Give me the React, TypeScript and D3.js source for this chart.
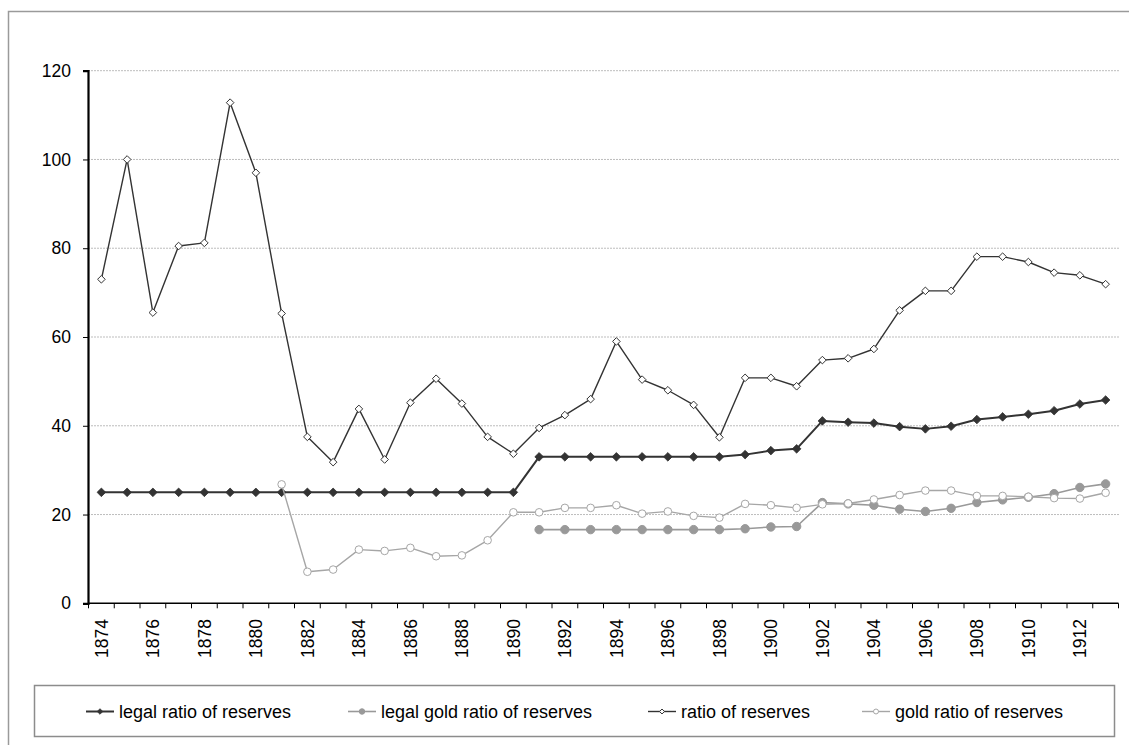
import React, { useEffect, useRef } from 'react';
import * as d3 from 'd3';

// Years on the category axis
const years: number[] = [
  1874, 1875, 1876, 1877, 1878, 1879, 1880, 1881, 1882, 1883,
  1884, 1885, 1886, 1887, 1888, 1889, 1890, 1891, 1892, 1893,
  1894, 1895, 1896, 1897, 1898, 1899, 1900, 1901, 1902, 1903,
  1904, 1905, 1906, 1907, 1908, 1909, 1910, 1911, 1912, 1913,
];

const yTicks: number[] = [0, 20, 40, 60, 80, 100, 120];

const legalRatio: (number | null)[] = [
  25, 25, 25, 25, 25, 25, 25, 25, 25, 25,
  25, 25, 25, 25, 25, 25, 25, 33, 33, 33,
  33, 33, 33, 33, 33, 33.5, 34.4, 34.8, 41.1, 40.8,
  40.6, 39.8, 39.3, 39.9, 41.4, 42, 42.6, 43.4, 44.9, 45.8,
];

const legalGoldRatio: (number | null)[] = [
  null, null, null, null, null, null, null, null, null, null,
  null, null, null, null, null, null, null, 16.6, 16.6, 16.6,
  16.6, 16.6, 16.6, 16.6, 16.6, 16.8, 17.2, 17.3, 22.7, 22.4,
  22.1, 21.2, 20.7, 21.4, 22.7, 23.3, 23.9, 24.7, 26.1, 26.9,
];

const ratio: (number | null)[] = [
  73, 100, 65.5, 80.5, 81.2, 112.8, 97, 65.3, 37.5, 31.8,
  43.8, 32.4, 45.2, 50.6, 45, 37.5, 33.7, 39.5, 42.4, 46,
  59, 50.4, 48, 44.7, 37.4, 50.8, 50.8, 48.9, 54.8, 55.2,
  57.3, 66, 70.4, 70.4, 78.1, 78.1, 76.9, 74.5, 73.9, 71.9,
];

const goldRatio: (number | null)[] = [
  null, null, null, null, null, null, null, 26.8, 7.1, 7.6,
  12.1, 11.8, 12.5, 10.6, 10.8, 14.2, 20.5, 20.5, 21.5, 21.5,
  22.1, 20.2, 20.7, 19.7, 19.3, 22.4, 22.1, 21.5, 22.3, 22.5,
  23.4, 24.4, 25.4, 25.4, 24.2, 24.2, 24, 23.7, 23.6, 24.9,
];

type Marker = 'filledDiamond' | 'filledCircle' | 'openDiamond' | 'openCircle';

interface Series {
  name: string;
  values: (number | null)[];
  color: string;
  width: number;
  marker: Marker;
}

const series: Series[] = [
  { name: 'legal ratio of reserves', values: legalRatio, color: '#333333', width: 2, marker: 'filledDiamond' },
  { name: 'legal gold ratio of reserves', values: legalGoldRatio, color: '#999999', width: 1.6, marker: 'filledCircle' },
  { name: 'ratio of reserves', values: ratio, color: '#333333', width: 1.4, marker: 'openDiamond' },
  { name: 'gold ratio of reserves', values: goldRatio, color: '#a6a6a6', width: 1.4, marker: 'openCircle' },
];

// legend text start positions
const legendTextX = [119, 381, 681, 895];

const FONT = 'Arial, "Liberation Sans", sans-serif';

function App() {
  const ref = useRef<SVGSVGElement | null>(null);

  useEffect(() => {
    document.body.style.margin = '0';
    const svg = d3.select(ref.current);
    svg.selectAll('*').remove();

    const left = 88;
    const right = 1118.5;
    const top = 70.7;
    const bottom = 603.3;

    const x = d3.scaleBand<number>().domain(years).range([left + 0.5, right]);
    const cx = (yr: number) => (x(yr) as number) + x.bandwidth() / 2;
    const y = d3.scaleLinear().domain([0, 120]).range([bottom, top]);

    // outer frame
    svg.append('rect')
      .attr('x', 8.5).attr('y', 11.5)
      .attr('width', 1140).attr('height', 760)
      .attr('fill', 'none')
      .attr('stroke', '#9a9a9a')
      .attr('stroke-width', 1.5);

    // gridlines
    svg.append('g')
      .selectAll('line')
      .data(yTicks.filter(t => t > 0))
      .enter().append('line')
      .attr('x1', left).attr('x2', 1120)
      .attr('y1', d => y(d)).attr('y2', d => y(d))
      .attr('stroke', '#bdbdbd')
      .attr('stroke-width', 1)
      .attr('stroke-dasharray', '2,1');

    // Y axis
    const yAxis = svg.append('g')
      .attr('transform', `translate(${left},0)`)
      .call(d3.axisLeft(y).tickValues(yTicks).tickSize(5).tickPadding(12));
    yAxis.select('.domain').attr('stroke', '#000').attr('stroke-width', 2.2);
    yAxis.selectAll('.tick line').attr('stroke', '#000');
    yAxis.selectAll('text')
      .attr('font-family', FONT)
      .attr('font-size', 17.5)
      .attr('fill', '#000');

    // X axis line and ticks between categories
    svg.append('line')
      .attr('x1', left).attr('x2', right)
      .attr('y1', bottom).attr('y2', bottom)
      .attr('stroke', '#000').attr('stroke-width', 1.6);
    svg.append('g')
      .selectAll('line')
      .data(years.concat([0]))
      .enter().append('line')
      .attr('x1', (d, i) => i < years.length ? (x(d) as number) : right)
      .attr('x2', (d, i) => i < years.length ? (x(d) as number) : right)
      .attr('y1', bottom).attr('y2', bottom + 5)
      .attr('stroke', '#000').attr('stroke-width', 1);

    // X labels (every second year)
    svg.append('g')
      .selectAll('text')
      .data(years.filter((d, i) => i % 2 === 0))
      .enter().append('text')
      .attr('transform', d => `translate(${cx(d)},619) rotate(-90)`)
      .attr('text-anchor', 'end')
      .attr('dy', '0.35em')
      .attr('font-family', FONT)
      .attr('font-size', 17.5)
      .attr('fill', '#000')
      .text(d => String(d));

    const drawMarker = (g: d3.Selection<SVGGElement, unknown, null, undefined>, m: Marker, px: number, py: number, color: string, k = 1) => {
      if (m === 'filledDiamond' || m === 'openDiamond') {
        const h = (m === 'filledDiamond' ? 4.3 : 3.8) * k;
        g.append('path')
          .attr('d', `M${px},${py - h}L${px + h},${py}L${px},${py + h}L${px - h},${py}Z`)
          .attr('fill', m === 'filledDiamond' ? color : '#fff')
          .attr('stroke', color)
          .attr('stroke-width', m === 'filledDiamond' ? 0.8 : 1);
      } else {
        g.append('circle')
          .attr('cx', px).attr('cy', py)
          .attr('r', (m === 'filledCircle' ? 4.2 : 3.8) * k)
          .attr('fill', m === 'filledCircle' ? color : '#fff')
          .attr('stroke', color)
          .attr('stroke-width', 1);
      }
    };

    // series lines and markers
    series.forEach(s => {
      const pts = years.map((yr, i) => ({ yr, v: s.values[i] }));
      const line = d3.line<{ yr: number; v: number | null }>()
        .defined(d => d.v !== null)
        .x(d => cx(d.yr))
        .y(d => y(d.v as number));
      const g = svg.append('g');
      g.append('path')
        .datum(pts)
        .attr('fill', 'none')
        .attr('stroke', s.color)
        .attr('stroke-width', s.width)
        .attr('stroke-linejoin', 'round')
        .attr('d', line);
      pts.filter(d => d.v !== null).forEach(d => {
        drawMarker(g, s.marker, cx(d.yr), y(d.v as number), s.color);
      });
    });

    // legend
    svg.append('rect')
      .attr('x', 34.5).attr('y', 685.5)
      .attr('width', 1080).attr('height', 51)
      .attr('fill', '#fff')
      .attr('stroke', '#8c8c8c')
      .attr('stroke-width', 1.5);

    series.forEach((s, i) => {
      const tx = legendTextX[i];
      const ly = 711.5;
      const g = svg.append('g');
      g.append('line')
        .attr('x1', tx - 33).attr('x2', tx - 5)
        .attr('y1', ly).attr('y2', ly)
        .attr('stroke', s.color)
        .attr('stroke-width', s.width);
      drawMarker(g, s.marker, tx - 19, ly, s.color, 0.65);
      g.append('text')
        .attr('x', tx).attr('y', ly)
        .attr('dy', '0.35em')
        .attr('font-family', FONT)
        .attr('font-size', 18)
        .attr('fill', '#000')
        .text(s.name);
    });
  }, []);

  return (
    <svg ref={ref} width={1129} height={745} style={{ display: 'block', background: '#fff' }} />
  );
}

export default App;
